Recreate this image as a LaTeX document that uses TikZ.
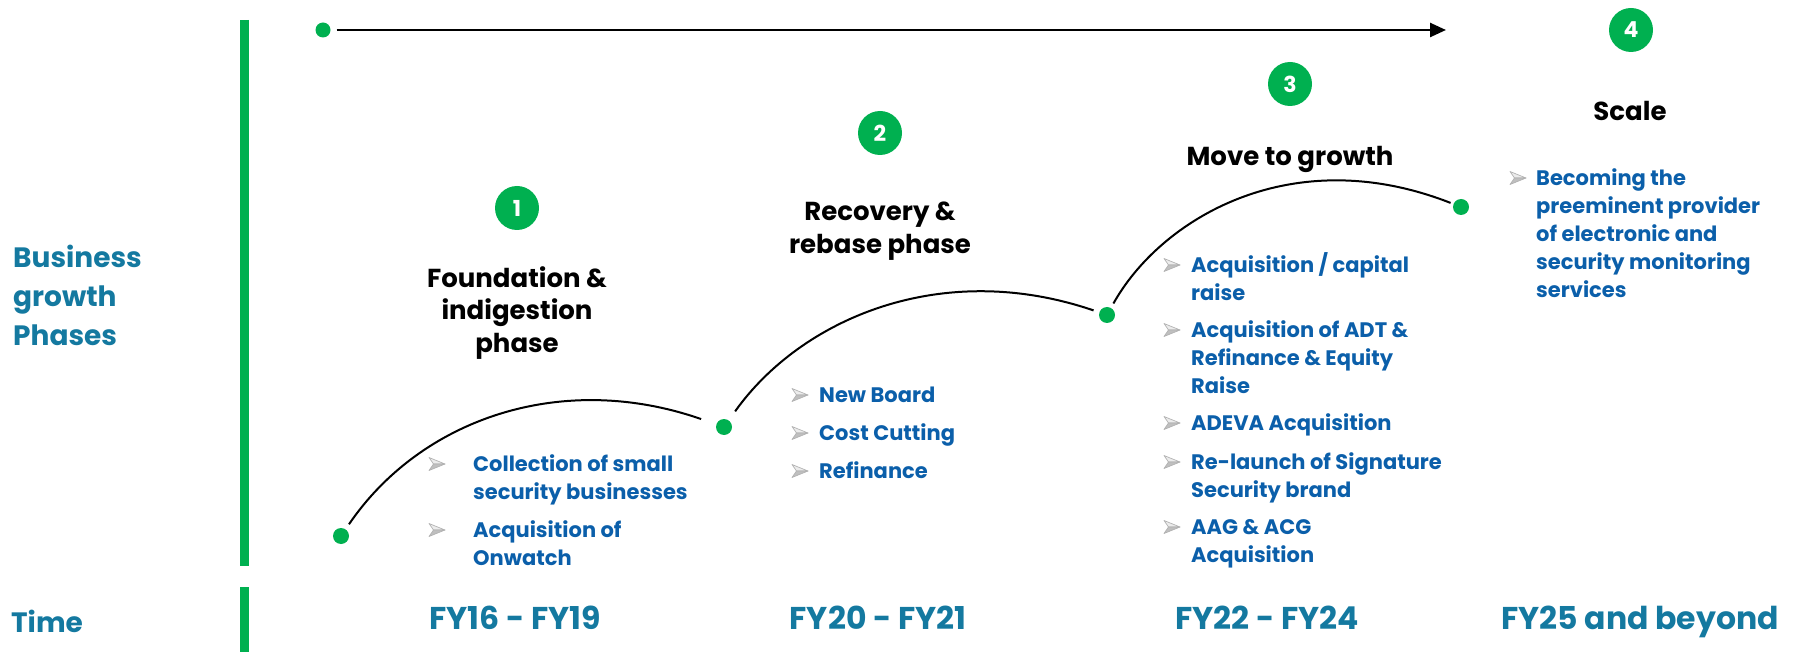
\documentclass[tikz,border=0pt]{standalone}
\usepackage{fontspec}
\setmainfont{Poppins}
\usetikzlibrary{arrows.meta}
\definecolor{phasegreen}{HTML}{00B050}
\definecolor{labelteal}{HTML}{1479A0}
\definecolor{itemblue}{HTML}{0B5FAA}
\tikzset{
  arrowbullet/.pic={
    \fill[gray!15,draw=gray!60,line width=0.7pt,line join=round] (-8,-6.5) -- (8,0) -- (-3.5,0) -- cycle;
    \fill[gray!50,draw=gray!60,line width=0.7pt,line join=round] (-8,6.5) -- (8,0) -- (-3.5,0) -- cycle;
  }
}
\begin{document}
\begin{tikzpicture}[x=1pt,y=-1pt,
  dot/.style={circle,fill=phasegreen,inner sep=0pt,minimum size=16pt},
  badge/.style={circle,fill=phasegreen,inner sep=0pt,minimum size=44pt,text=white,
    font=\bfseries\fontsize{22}{22}\selectfont},
  heading/.style={align=center,inner sep=0pt,font=\bfseries\fontsize{26}{32.5}\selectfont},
  item/.style={anchor=base west,inner sep=0pt,text=itemblue,
    font=\bfseries\fontsize{21}{28}\selectfont},
  axislabel/.style={text=labelteal,inner sep=0pt,align=left,
    font=\bfseries\fontsize{28}{39}\selectfont},
  period/.style={anchor=base,text=labelteal,inner sep=0pt,font=\bfseries\fontsize{31.5}{34}\selectfont},
  arc/.style={line width=2pt,black},
  bar/.style={phasegreen,line width=9pt}
]
\useasboundingbox (0,0) rectangle (1794,652);

% vertical separators
\draw[bar] (244,20) -- (244,566);
\draw[bar] (244,587) -- (244,652);

% row labels
\node[axislabel,anchor=west] (growthlabel) at (13,295) {Business\\growth\\Phases};
\node[axislabel,anchor=west] (timelabel) at (11,621) {Time};

% time line arrow
\node[dot,minimum size=15pt] (t0) at (323,30) {};
\coordinate (tend) at (1446,30);
\draw[line width=2.5pt,-{Triangle[length=16pt,width=14pt]},shorten <=6pt] (t0) -- (tend);

% phase dots
\node[dot] (d1) at (341,536) {};
\node[dot] (d2) at (724,427) {};
\node[dot] (d3) at (1107,315) {};
\node[dot] (d4) at (1461,207) {};

% growth arcs
\draw[arc,shorten <=6pt,shorten >=16pt] (d1) .. controls (420,420) and (560,370) .. (d2);
\draw[arc,shorten <=11pt,shorten >=6pt] (d2) .. controls (800,320) and (940,258) .. (d3);
\draw[arc,shorten <=5pt,shorten >=3pt] (d3) .. controls (1160,220) and (1290,140) .. (d4);

% phase badges
\node[badge] (b1) at (517,208) {1};
\node[badge] (b2) at (880,133) {2};
\node[badge] (b3) at (1290,84) {3};
\node[badge] (b4) at (1631,30) {4};

% phase headings
\node[heading] (h1) at (517,313) {Foundation \&\\indigestion\\phase};
\node[heading] (h2) at (880,231) {Recovery \&\\rebase phase};
\node[heading] (h3) at (1290,159) {Move to growth};
\node[heading] (h4) at (1630,111) {Scale};

% phase 1 items
\node[item] (i11) at (473,471.5) {\vtop{\hbox{Collection of small}\hbox{security businesses}}};
\node[item] (i12) at (473,537.5) {\vtop{\hbox{Acquisition of}\hbox{Onwatch}}};
\pic at (437,464) {arrowbullet};
\pic at (437,530) {arrowbullet};

% phase 2 items
\node[item] (i21) at (819,402.5) {New Board};
\node[item] (i22) at (819,440.5) {Cost Cutting};
\node[item] (i23) at (819,478.5) {Refinance};
\pic at (800,395) {arrowbullet};
\pic at (800,433) {arrowbullet};
\pic at (800,471) {arrowbullet};

% phase 3 items
\node[item] (i31) at (1191,272.5) {\vtop{\hbox{Acquisition / capital}\hbox{raise}}};
\node[item] (i32) at (1191,337.5) {\vtop{\hbox{Acquisition of ADT \&}\hbox{Refinance \& Equity}\hbox{Raise}}};
\node[item] (i33) at (1191,430.5) {ADEVA Acquisition};
\node[item] (i34) at (1191,469.5) {\vtop{\hbox{Re-launch of Signature}\hbox{Security brand}}};
\node[item] (i35) at (1191,534.5) {\vtop{\hbox{AAG \& ACG}\hbox{Acquisition}}};
\pic at (1172,265) {arrowbullet};
\pic at (1172,330) {arrowbullet};
\pic at (1172,423) {arrowbullet};
\pic at (1172,462) {arrowbullet};
\pic at (1172,527) {arrowbullet};

% phase 4 item
\node[item] (i41) at (1536,185.5) {\vtop{\hbox{Becoming the}\hbox{preeminent provider}\hbox{of electronic and}\hbox{security monitoring}\hbox{services}}};
\pic at (1518,178) {arrowbullet};

% periods
\node[period] (p1) at (515,629) {FY16 - FY19};
\node[period] (p2) at (878,629) {FY20 - FY21};
\node[period] (p3) at (1267,629) {FY22 - FY24};
\node[period] (p4) at (1640,629) {FY25 and beyond};
\end{tikzpicture}
\end{document}
